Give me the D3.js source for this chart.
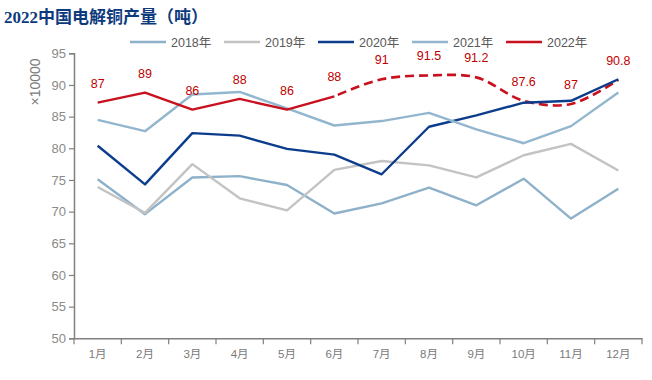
<!DOCTYPE html>
<html>
<head>
<meta charset="utf-8">
<script src="https://cdn.jsdelivr.net/npm/d3@7/dist/d3.min.js"></script>
<style>
html,body{margin:0;padding:0;background:#fff;}
svg{display:block;}
</style>
</head>
<body>
<svg id="chart" width="652" height="380"></svg>
<script>
const months = ["1月","2月","3月","4月","5月","6月","7月","8月","9月","10月","11月","12月"];
const yTicks = [50,55,60,65,70,75,80,85,90,95];
const s2018 = [75.1,69.6,75.4,75.6,74.2,69.7,71.3,73.8,71.0,75.2,68.9,73.6];
const s2019 = [73.9,69.8,77.5,72.1,70.2,76.6,78.0,77.3,75.4,78.9,80.7,76.5];
const s2020 = [80.4,74.3,82.4,82.0,79.9,79.0,75.9,83.4,85.2,87.2,87.5,90.9];
const s2021 = [84.5,82.7,88.5,88.9,86.3,83.6,84.3,85.6,83.0,80.8,83.5,88.8];
const s2022 = [87.2,88.8,86.1,87.8,86.1,88.2,90.9,91.5,91.2,87.5,87.0,90.8];
const labels2022 = ["87","89","86","88","86","88","91","91.5","91.2","87.6","87","90.8"];
const seriesNames = ["2018年","2019年","2020年","2021年","2022年"];
const colors = ["#8eb1ca","#c3c3c3","#0c3d8c","#93b6cf","#c8101e"];
const solidCount = 6; // 2022 actual months drawn solid

const svg = d3.select("#chart");
const pLeft = 74, pRight = 642, pTop = 53.3, pBottom = 338.3;
const x = d3.scaleBand().domain(months).range([pLeft, pRight]);
const y = d3.scaleLinear().domain([50,95]).range([pBottom, pTop]);
const cx = m => x(m) + x.bandwidth()/2;
const axisColor = "#808080";
const labelFont = "'Liberation Sans','Noto Sans CJK SC',sans-serif";

// title
svg.append("text").attr("x",4).attr("y",23)
  .attr("font-family","'Liberation Serif','Noto Sans CJK SC',serif")
  .attr("font-weight","bold").attr("font-size",17).attr("fill","#0d3a7d")
  .text("2022中国电解铜产量（吨）");

// legend
const legX = [130,224,318,412,506];
seriesNames.forEach((n,i)=>{
  const g = svg.append("g");
  g.append("line").attr("x1",legX[i]).attr("x2",legX[i]+36).attr("y1",42).attr("y2",42)
    .attr("stroke",colors[i]).attr("stroke-width",2.5);
  g.append("text").attr("x",legX[i]+41).attr("y",46.5)
    .attr("font-family",labelFont).attr("font-size",12.5).attr("fill","#595959").text(n);
});

// y axis
const yAxis = d3.axisLeft(y).tickValues(yTicks).tickSize(5).tickPadding(3).tickFormat(d3.format("d"));
const yg = svg.append("g").attr("transform",`translate(${pLeft},0)`).call(yAxis);
yg.select(".domain").attr("stroke",axisColor).attr("stroke-width",1.5);
yg.selectAll(".tick line").attr("stroke",axisColor).attr("stroke-width",1.2);
yg.selectAll(".tick text").attr("font-family",labelFont).attr("font-size",13).attr("fill","#8a8a8a");

svg.append("text").attr("transform","translate(40,82) rotate(-90)")
  .attr("text-anchor","middle").attr("font-family",labelFont).attr("font-size",14).attr("fill","#7a7a7a")
  .text("×10000");

// x axis
const xAxis = d3.axisBottom(x).tickSize(0).tickPadding(12);
const xg = svg.append("g").attr("transform",`translate(0,${pBottom})`).call(xAxis);
xg.select(".domain").attr("stroke",axisColor).attr("stroke-width",1.5);
xg.selectAll(".tick text").attr("font-family",labelFont).attr("font-size",11.5).attr("fill","#7a7a7a");
const bounds = months.map(m=>x(m)).concat([pRight]);
xg.selectAll(".btick").data(bounds).enter().append("line")
  .attr("x1",d=>d).attr("x2",d=>d).attr("y1",0).attr("y2",6)
  .attr("stroke",axisColor).attr("stroke-width",1.2);

// lines
const lineGen = d3.line().x(d=>cx(d.m)).y(d=>y(d.v));
const toPts = arr => arr.map((v,i)=>({m:months[i],v}));

// 2022 dashed forecast (smoothed)
const dashPts = toPts(s2022).slice(solidCount-1);
svg.append("path").attr("d", d3.line().x(d=>cx(d.m)).y(d=>y(d.v)).curve(d3.curveCatmullRom.alpha(0.5))(dashPts))
  .attr("fill","none").attr("stroke",colors[4]).attr("stroke-width",2.6)
  .attr("stroke-dasharray","9,5").attr("stroke-dashoffset",-4);

[s2018,s2019,s2020,s2021].forEach((s,i)=>{
  svg.append("path").attr("d",lineGen(toPts(s)))
    .attr("fill","none").attr("stroke",colors[i]).attr("stroke-width",2.4)
    .attr("stroke-linejoin","round");
});

svg.append("path").attr("d",lineGen(toPts(s2022).slice(0,solidCount)))
  .attr("fill","none").attr("stroke",colors[4]).attr("stroke-width",2.4)
  .attr("stroke-linejoin","round");

// 2022 value labels
svg.selectAll(".vlab").data(toPts(s2022)).enter().append("text")
  .attr("x",d=>cx(d.m)).attr("y",d=>y(d.v)-15)
  .attr("text-anchor","middle").attr("font-family",labelFont).attr("font-size",12.5)
  .attr("fill","#c00000").text((d,i)=>labels2022[i]);
</script>
</body>
</html>
